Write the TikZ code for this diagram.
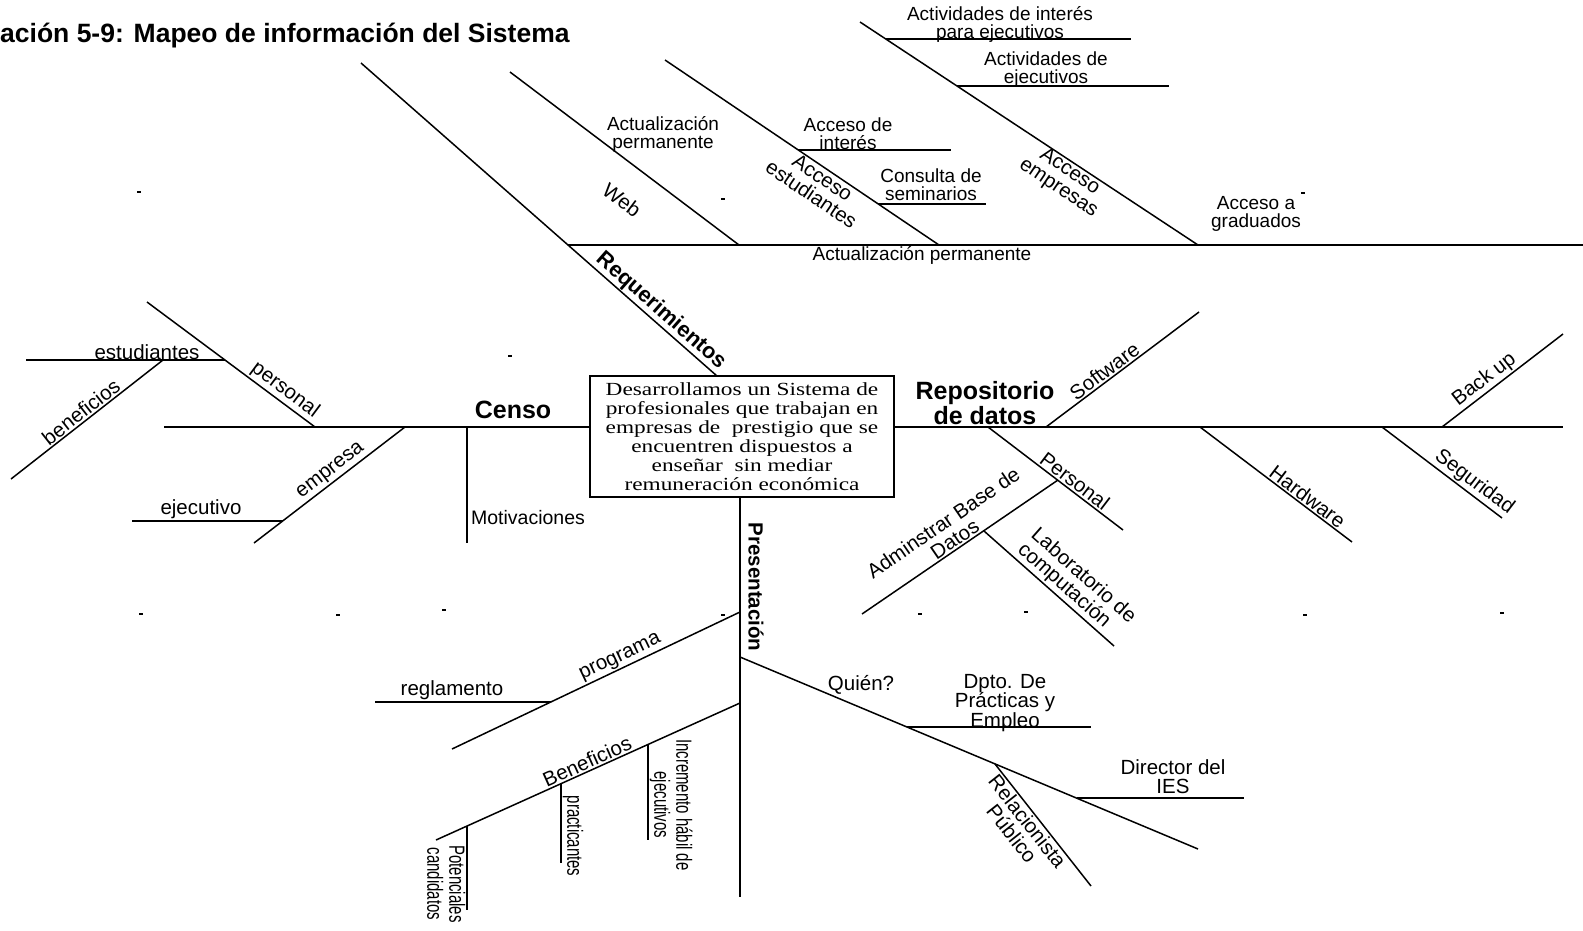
\documentclass[tikz,border=0pt]{standalone}
\usepackage{fontspec}
\usetikzlibrary{calc}
\setmainfont{Liberation Sans}
\newfontfamily\boxfont{Liberation Serif}[FakeStretch=1.26]
\newfontfamily\narrowfont{Liberation Sans}[FakeStretch=0.68]
\begin{document}
\begin{tikzpicture}[x=1pt,y=-1pt,
  bone/.style={line width=1.5pt},
  spine/.style={line width=2pt},
  lbl/.style={inner sep=0pt, align=center, font=\fontsize{20.5}{20}\selectfont},
  toplbl/.style={inner sep=0pt, align=center, font=\fontsize{19}{18}\selectfont},
  head/.style={inner sep=0pt, align=center, font=\fontsize{25}{22}\selectfont\bfseries},
  onbone/.style={sloped, anchor=south, inner sep=1.5pt, align=center, font=\fontsize{20.5}{20}\selectfont},
  underbone/.style={sloped, anchor=north, inner sep=1.5pt, align=center, font=\fontsize{20.5}{20}\selectfont},
  vlbl/.style={rotate=-90, inner sep=1.5pt, align=center, font=\narrowfont\fontsize{22}{22}\selectfont},
  speck/.style={line width=1.6pt},
]
\useasboundingbox (0,0) rectangle (1583,930);

% title
\node[anchor=west, inner sep=0pt, font=\fontsize{26.5}{30}\selectfont\bfseries] (title) at (0,36)
  {ación 5-9: Mapeo de información del Sistema};

% central statement
\node[draw, line width=1.6pt, minimum width=304pt, minimum height=121pt, inner sep=0pt,
      align=center, font=\boxfont\fontsize{18.5}{19.1}\selectfont] (goal) at (742,436.5)
  {Desarrollamos un Sistema de\\ profesionales que trabajan en\\ empresas de\ \ prestigio que se\\
   encuentren dispuestos a\\ enseñar\ \ sin mediar\\ remuneración económica};

% ---------- bone end points ----------
% main spine
\coordinate (sL) at (164,427);
\coordinate (sR) at (1563,427);
% Requerimientos and its upper rib
\coordinate (rq0) at (361,63);
\coordinate (rq1) at (717,376);
\coordinate (u0) at (568,245);
\coordinate (u1) at (1583,245);
\coordinate (w0) at (510,72);   \coordinate (w1) at (739,245);
\coordinate (e0) at (665,60);   \coordinate (e1) at (939,245);
\coordinate (ai0) at (798,150); \coordinate (ai1) at (951,150);
\coordinate (cs0) at (878,204); \coordinate (cs1) at (986,204);
\coordinate (m0) at (860,22);   \coordinate (m1) at (1198,245);
\coordinate (ap0) at (886,39);  \coordinate (ap1) at (1131,39);
\coordinate (ae0) at (957,86);  \coordinate (ae1) at (1169,86);
% Censo
\coordinate (pe0) at (147,302); \coordinate (pe1) at (315,427);
\coordinate (es0) at (26,360);  \coordinate (es1) at (225,360);
\coordinate (be0) at (11,479);  \coordinate (be1) at (163,360);
\coordinate (em0) at (254,543); \coordinate (em1) at (405,427);
\coordinate (ej0) at (132,521); \coordinate (ej1) at (283,521);
\coordinate (mo0) at (467,427); \coordinate (mo1) at (467,543);
% Repositorio de datos
\coordinate (so0) at (1046,427); \coordinate (so1) at (1199,312);
\coordinate (ps0) at (988,427);  \coordinate (ps1) at (1123,530);
\coordinate (ad0) at (862,614);  \coordinate (ad1) at (1058,480);
\coordinate (la0) at (984,531);  \coordinate (la1) at (1114,646);
\coordinate (hw0) at (1200,427); \coordinate (hw1) at (1352,542);
\coordinate (sg0) at (1382,427); \coordinate (sg1) at (1502,518);
\coordinate (bu0) at (1442,427); \coordinate (bu1) at (1563,334);
% Presentacion
\coordinate (pr1) at (740,897);
\coordinate (pg0) at (452,749); \coordinate (pg1) at (740,612);
\coordinate (rg0) at (375,702); \coordinate (rg1) at (551,702);
\coordinate (bn0) at (436,840); \coordinate (bn1) at (740,703);
\coordinate (po0) at (467,826); \coordinate (po1) at (467,910);
\coordinate (pc0) at (561,784); \coordinate (pc1) at (561,863);
\coordinate (in0) at (648,745); \coordinate (in1) at (648,840);
\coordinate (qu0) at (740,657); \coordinate (qu1) at (1198,849);
\coordinate (dp0) at (907,727); \coordinate (dp1) at (1091,727);
\coordinate (re0) at (995,764); \coordinate (re1) at (1091,886);
\coordinate (di0) at (1077,798); \coordinate (di1) at (1244,798);

% ---------- spines ----------
\draw[spine] (sL) -- (sL -| goal.west);
\draw[spine] (goal.east |- sR) -- (sR);
\draw[spine] (pr1 |- goal.south) -- (pr1);
\draw[spine] (u0) -- (u1);
\draw[bone] (rq0) -- (rq1);
\path (u0) -- (rq1) node[onbone, pos=.57, font=\fontsize{21.8}{22}\selectfont\bfseries] (hReq) {Requerimientos};

% ---------- plain bones ----------
\foreach \a/\b in {w0/w1, e0/e1, ai0/ai1, cs0/cs1, m0/m1, ap0/ap1, ae0/ae1,
                   es0/es1, ej0/ej1, mo0/mo1, rg0/rg1, qu0/qu1, dp0/dp1, di0/di1}
  \draw[bone] (\a) -- (\b);

% ---------- labelled bones ----------
\draw[bone] (pe0) -- (pe1) node[onbone, pos=.78] (lPers) {personal};
\draw[bone] (be0) -- (be1) node[onbone, pos=.5] (lBen) {beneficios};
\draw[bone] (em0) -- (em1) node[onbone, pos=.55] (lEmp) {empresa};
\draw[bone] (so0) -- (so1) node[onbone, pos=.42] (lSoft) {Software};
\draw[bone] (ps0) -- (ps1) node[onbone, pos=.6] (lPersonal) {Personal};
\draw[bone] (ad0) -- (ad1) node[onbone, pos=.5] (lAdm) {Adminstrar Base de\\Datos};
\draw[bone] (la0) -- (la1) node[onbone, pos=.6, align=left] (lLab) {Laboratorio de\\computación};
\draw[bone] (hw0) -- (hw1) node[onbone, pos=.67] (lHard) {Hardware};
\draw[bone] (sg0) -- (sg1) node[onbone, pos=.71] (lSeg) {Seguridad};
\draw[bone] (bu0) -- (bu1) node[onbone, pos=.41] (lBack) {Back up};
\draw[bone] (pg0) -- (pg1) node[onbone, pos=.6] (lProg) {programa};
\draw[bone] (bn0) -- (bn1) node[onbone, pos=.51] (lBenef) {Beneficios};
\draw[bone] (re0) -- (re1) node[underbone, pos=.42] (lRel) {Relacionista\\Público};
\draw[bone] (po0) -- (po1);
\draw[bone] (pc0) -- (pc1);
\draw[bone] (in0) -- (in1);
\node[vlbl, anchor=north] (lPot) at ($(po0)!.69!(po1)$) {Potenciales\\candidatos};
\node[vlbl, anchor=south] (lPrac) at ($(pc0)!.66!(pc1)$) {practicantes};
\node[vlbl, anchor=south] (lInc) at ($(in0)!.63!(in1)$) {Incremento hábil de\\ejecutivos};

% ---------- heads ----------
\node[head] (hCenso) at (513,410) {Censo};
\node[head] (hRepo) at (985,403) {Repositorio\\de datos};
\node[head, font=\fontsize{20.5}{22}\selectfont\bfseries, rotate=-90] (hPres) at (756,587) {Presentación};

% ---------- upper labels ----------
\node[toplbl] (lActInt) at (1000,24) {Actividades de interés\\para ejecutivos};
\node[toplbl] (lActEje) at (1046,70) {Actividades de\\ejecutivos};
\node[toplbl] (lActPerm) at (663,134) {Actualización\\permanente};
\node[toplbl] (lAccInt) at (848,134) {Acceso de\\interés};
\node[toplbl] (lConsulta) at (931,185) {Consulta de\\seminarios};
\node[toplbl] (lGrad) at (1256,214) {Acceso a\\graduados};
\node[toplbl] (lActPerm2) at (922,255) {Actualización permanente};
\node[lbl, rotate=-37] (lWeb) at (622,200) {Web};
\node[lbl, rotate=-34] (lAccEst) at (817,186) {Acceso\\estudiantes};
\node[lbl, rotate=-34] (lAccEmp) at (1064,180) {Acceso\\empresas};

% ---------- horizontal labels ----------
\node[lbl] (lEst) at (147,352) {estudiantes};
\node[lbl] (lEjec) at (201,509) {ejecutivo};
\node[lbl, font=\fontsize{19.5}{20}\selectfont] (lMot) at (528,518) {Motivaciones};
\node[lbl] (lRegl) at (452,690) {reglamento};
\node[lbl] (lQuien) at (861,685) {Quién?};
\node[lbl, font=\fontsize{20.5}{19.5}\selectfont] (lDpto) at (1005,703) {Dpto. De\\Prácticas y\\Empleo};
\node[lbl, font=\fontsize{20.5}{19}\selectfont] (lDir) at (1173,777) {Director del\\IES};

% small specks
\foreach \sx/\sy in {139/192, 723/199, 510/356, 141/614, 338/615, 444/610, 723/615,
                     920/614, 1026/612, 1305/615, 1502/613, 1303/193}
  \draw[speck] (\sx-2,\sy) -- (\sx+2,\sy);
\end{tikzpicture}
\end{document}
